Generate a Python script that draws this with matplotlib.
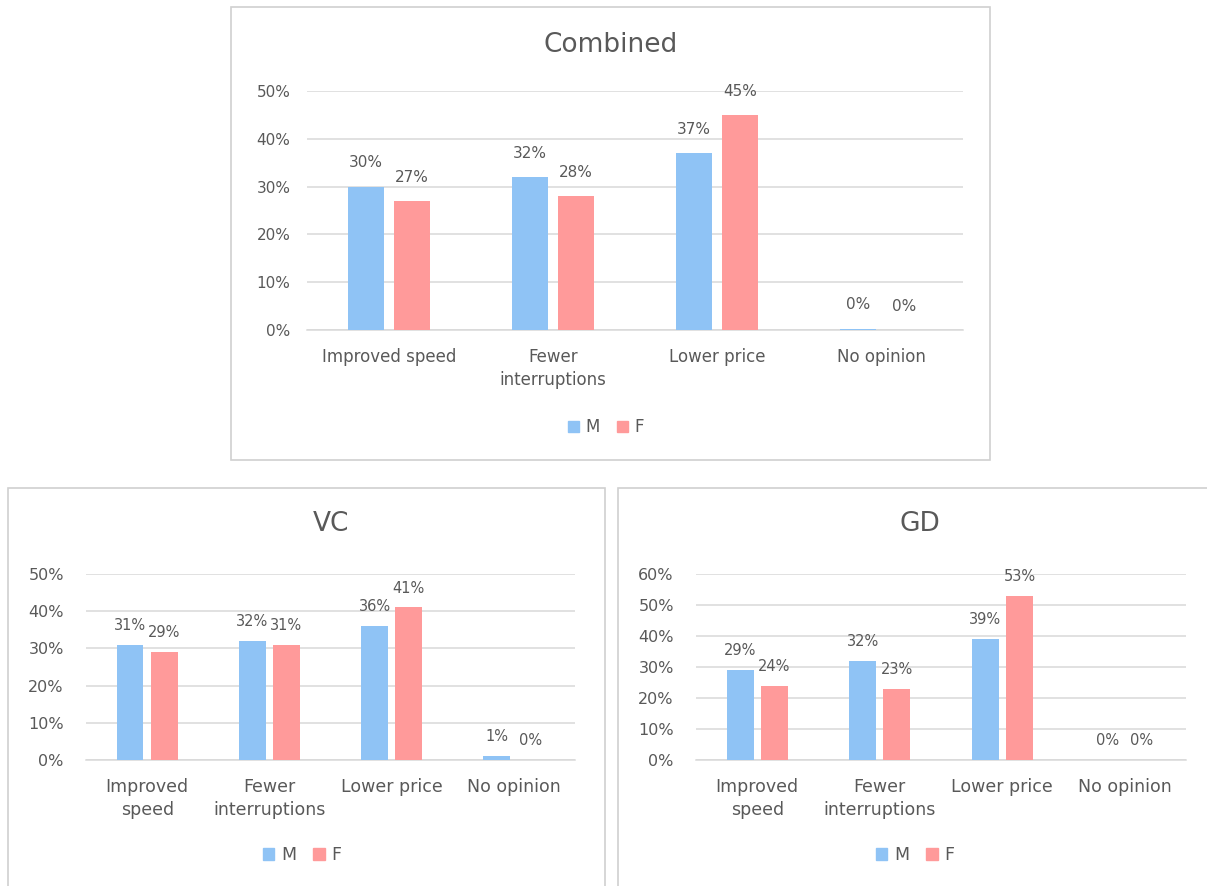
import matplotlib
matplotlib.use("Agg")
import matplotlib.pyplot as plt
from matplotlib.patches import Rectangle, Patch
import numpy as np

plt.rcParams['font.family'] = ['DejaVu Sans']

# ---- data ----
categories_wide = ["Improved speed", "Fewer\ninterruptions", "Lower price", "No opinion"]
categories_narrow = ["Improved\nspeed", "Fewer\ninterruptions", "Lower price", "No opinion"]
series_names = ["M", "F"]

combined_m = [0.30, 0.32, 0.37, 0.003]
combined_f = [0.27, 0.28, 0.45, 0.0]
vc_m = [0.31, 0.32, 0.36, 0.01]
vc_f = [0.29, 0.31, 0.41, 0.0]
gd_m = [0.29, 0.32, 0.39, 0.0]
gd_f = [0.24, 0.23, 0.53, 0.0]

combined_ticks = [0.0, 0.1, 0.2, 0.3, 0.4, 0.5]
vc_ticks = [0.0, 0.1, 0.2, 0.3, 0.4, 0.5]
gd_ticks = [0.0, 0.1, 0.2, 0.3, 0.4, 0.5, 0.6]

# ---- style ----
BLUE = "#8FC3F5"
PINK = "#FF9A9A"
TEXT = "#595959"
GRID = "#D9D9D9"
BORDER = "#D0D0D0"

W, H = 1207, 886
fig = plt.figure(figsize=(W / 100, H / 100), dpi=100)
fig.patch.set_facecolor("white")


def frame(x0, y0, x1, y1):
    """Chart-area border given in pixel coordinates (origin top-left)."""
    fig.patches.append(Rectangle((x0 / W, 1 - y1 / H), (x1 - x0) / W, (y1 - y0) / H,
                                 transform=fig.transFigure, fill=False,
                                 edgecolor=BORDER, linewidth=1.2, zorder=0))


def panel(box, title, title_xy, labels, m_vals, f_vals, ticks, legend_xy,
          fs_cat, fs_tick, fs_val, ypad, val_offset):
    x0, y0, x1, y1 = box
    ax = fig.add_axes([x0 / W, 1 - y1 / H, (x1 - x0) / W, (y1 - y0) / H])
    x = np.arange(len(labels))
    w = 0.22
    off = 0.14
    bm = ax.bar(x - off, m_vals, w, color=BLUE, zorder=3, label=series_names[0])
    bf = ax.bar(x + off, f_vals, w, color=PINK, zorder=3, label=series_names[1])
    for bars in (bm, bf):
        for b in bars:
            v = b.get_height()
            ax.annotate(f"{v:.0%}", (b.get_x() + b.get_width() / 2, v),
                        xytext=(0, val_offset), textcoords="offset points",
                        ha="center", va="center", fontsize=fs_val, color=TEXT,
                        zorder=4)
    ax.set_xlim(-0.5, len(labels) - 0.5)
    ax.set_ylim(ticks[0], ticks[-1])
    ax.set_yticks(ticks)
    ax.set_yticklabels([f"{t:.0%}" for t in ticks])
    ax.set_xticks(x)
    ax.set_xticklabels(labels, linespacing=1.35)
    ax.tick_params(axis="x", length=0, pad=13, labelsize=fs_cat, colors=TEXT)
    ax.tick_params(axis="y", length=0, pad=ypad, labelsize=fs_tick, colors=TEXT)
    ax.grid(axis="y", color=GRID, linewidth=1.1, zorder=0)
    ax.set_axisbelow(True)
    for s in ("top", "right", "left"):
        ax.spines[s].set_visible(False)
    ax.spines["bottom"].set_color(GRID)
    ax.spines["bottom"].set_linewidth(1.1)
    ax.set_facecolor("none")
    fig.text(title_xy[0] / W, 1 - title_xy[1] / H, title, ha="center", va="center",
             fontsize=19, color=TEXT)
    handles = [Patch(color=BLUE, label=series_names[0]),
               Patch(color=PINK, label=series_names[1])]
    fig.legend(handles=handles, loc="center",
               bbox_to_anchor=(legend_xy[0] / W, 1 - legend_xy[1] / H),
               ncol=2, frameon=False, fontsize=fs_cat, labelcolor=TEXT,
               handlelength=0.65, handleheight=0.65, handletextpad=0.4,
               columnspacing=1.0, borderpad=0)
    return ax


# borders
frame(231, 7, 990, 460)
frame(8, 488, 605, 900)
frame(618, 488, 1215, 900)

panel((307, 91, 963, 330), "Combined", (611, 45), categories_wide,
      combined_m, combined_f, combined_ticks, (606, 427),
      fs_cat=12, fs_tick=11, fs_val=11, ypad=12, val_offset=17)
panel((86, 574, 575, 760), "VC", (331, 524), categories_narrow,
      vc_m, vc_f, vc_ticks, (302, 855),
      fs_cat=12.5, fs_tick=11.5, fs_val=10.5, ypad=16, val_offset=14)
panel((696, 574, 1186, 760), "GD", (920, 524), categories_narrow,
      gd_m, gd_f, gd_ticks, (915, 855),
      fs_cat=12.5, fs_tick=11.5, fs_val=10.5, ypad=16, val_offset=14)

fig.savefig("out.png", dpi=100, facecolor="white")
